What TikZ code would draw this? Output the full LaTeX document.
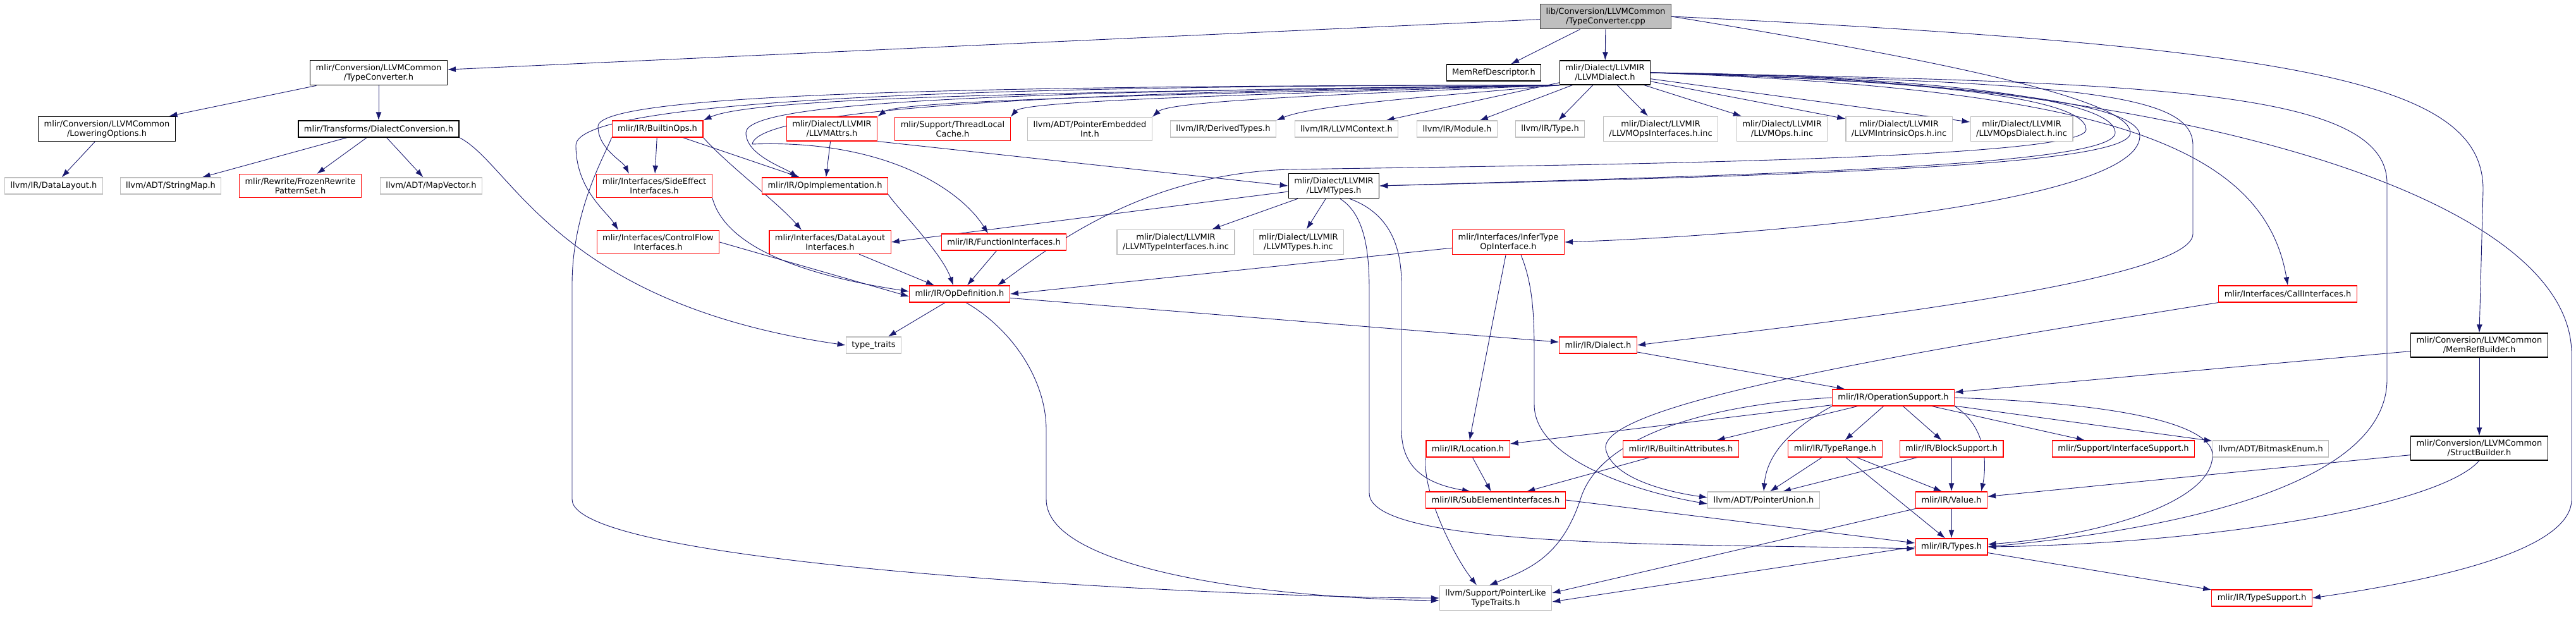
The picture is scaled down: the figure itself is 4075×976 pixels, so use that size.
\documentclass[tikz,border=0pt]{standalone}
\usepackage{fontspec}
\setmainfont{DejaVu Sans}
\usetikzlibrary{arrows.meta,positioning,backgrounds}

\definecolor{edgeblue}{HTML}{191970}
\definecolor{extgrey}{HTML}{BFBFBF}

\tikzset{
  file/.style={draw, line width=1.2pt, fill=white, align=center,
    font=\fontsize{13}{15}\selectfont, inner xsep=9pt, inner ysep=6pt,
    minimum height=26pt},
  rootfile/.style={file, fill=extgrey, draw=black!75},
  docfile/.style={file, draw=black},
  cutfile/.style={file, draw=red},
  extfile/.style={file, draw=extgrey},
  dep/.style={-{Latex[length=13pt,width=9pt]}, draw=edgeblue, line width=0.9pt},
}

\begin{document}
\begin{tikzpicture}[x=1pt,y=-1pt]
  \useasboundingbox (0,0) rectangle (4075,976);

  % top levels
  \node[rootfile] (tcCpp) at (2540,26) {lib/Conversion/LLVMCommon\\/TypeConverter.cpp};
  \node[docfile] (tcH) at (599,115) {mlir/Conversion/LLVMCommon\\/TypeConverter.h};
  \node[docfile] (memDesc) at (2363,115) {MemRefDescriptor.h};
  \node[docfile] (llvmDialect) at (2539,115) {mlir/Dialect/LLVMIR\\/LLVMDialect.h};

  \node[docfile] (lowerOpt) at (169,204) {mlir/Conversion/LLVMCommon\\/LoweringOptions.h};
  \node[docfile] (dialConv) at (599,204) {mlir/Transforms/DialectConversion.h};
  \node[cutfile] (builtinOps) at (1040,204) {mlir/IR/BuiltinOps.h};
  \node[cutfile] (llvmAttrs) at (1316,204) {mlir/Dialect/LLVMIR\\/LLVMAttrs.h};
  \node[cutfile] (threadCache) at (1507,204) {mlir/Support/ThreadLocal\\Cache.h};
  \node[extfile] (ptrEmbInt) at (1724,204) {llvm/ADT/PointerEmbedded\\Int.h};
  \node[extfile] (derivedTypes) at (1935,204) {llvm/IR/DerivedTypes.h};
  \node[extfile] (llvmContext) at (2130,204) {llvm/IR/LLVMContext.h};
  \node[extfile] (llvmModule) at (2305,204) {llvm/IR/Module.h};
  \node[extfile] (llvmType) at (2452,204) {llvm/IR/Type.h};
  \node[extfile] (opsIfaceInc) at (2627,204) {mlir/Dialect/LLVMIR\\/LLVMOpsInterfaces.h.inc};
  \node[extfile] (opsInc) at (2819,204) {mlir/Dialect/LLVMIR\\/LLVMOps.h.inc};
  \node[extfile] (intrOpsInc) at (3004,204) {mlir/Dialect/LLVMIR\\/LLVMIntrinsicOps.h.inc};
  \node[extfile] (opsDialInc) at (3198,204) {mlir/Dialect/LLVMIR\\/LLVMOpsDialect.h.inc};

  \node[extfile] (dataLayout) at (85,294) {llvm/IR/DataLayout.h};
  \node[extfile] (stringMap) at (270,294) {llvm/ADT/StringMap.h};
  \node[cutfile] (frozenRw) at (475,294) {mlir/Rewrite/FrozenRewrite\\PatternSet.h};
  \node[extfile] (mapVector) at (682,294) {llvm/ADT/MapVector.h};
  \node[cutfile] (sideEffect) at (1035,294) {mlir/Interfaces/SideEffect\\Interfaces.h};
  \node[cutfile] (opImpl) at (1305,294) {mlir/IR/OpImplementation.h};
  \node[docfile] (llvmTypes) at (2110,294) {mlir/Dialect/LLVMIR\\/LLVMTypes.h};

  \node[cutfile] (ctrlFlow) at (1041,383) {mlir/Interfaces/ControlFlow\\Interfaces.h};
  \node[cutfile] (dlIface) at (1313,383) {mlir/Interfaces/DataLayout\\Interfaces.h};
  \node[cutfile] (funcIface) at (1588,383) {mlir/IR/FunctionInterfaces.h};
  \node[extfile] (typeIfaceInc) at (1860,383) {mlir/Dialect/LLVMIR\\/LLVMTypeInterfaces.h.inc};
  \node[extfile] (typesInc) at (2054,383) {mlir/Dialect/LLVMIR\\/LLVMTypes.h.inc};
  \node[cutfile] (inferType) at (2386,383) {mlir/Interfaces/InferType\\OpInterface.h};

  \node[cutfile] (opDef) at (1518,465) {mlir/IR/OpDefinition.h};
  \node[cutfile] (callIface) at (3619,465) {mlir/Interfaces/CallInterfaces.h};
  \node[extfile] (typeTraits) at (1382,546) {type\_traits};
  \node[cutfile] (dialectH) at (2528,546) {mlir/IR/Dialect.h};
  \node[docfile] (memRefBld) at (3922,546) {mlir/Conversion/LLVMCommon\\/MemRefBuilder.h};
  \node[cutfile] (opSupport) at (2995,629) {mlir/IR/OperationSupport.h};

  \node[cutfile] (locationH) at (2322,710) {mlir/IR/Location.h};
  \node[cutfile] (builtinAttr) at (2659,710) {mlir/IR/BuiltinAttributes.h};
  \node[cutfile] (typeRange) at (2903,710) {mlir/IR/TypeRange.h};
  \node[cutfile] (blockSupp) at (3087,710) {mlir/IR/BlockSupport.h};
  \node[cutfile] (ifaceSupp) at (3359,710) {mlir/Support/InterfaceSupport.h};
  \node[extfile] (bitmaskEnum) at (3592,710) {llvm/ADT/BitmaskEnum.h};
  \node[docfile] (structBld) at (3922,709) {mlir/Conversion/LLVMCommon\\/StructBuilder.h};

  \node[cutfile] (subElem) at (2366,791) {mlir/IR/SubElementInterfaces.h};
  \node[extfile] (ptrUnion) at (2790,791) {llvm/ADT/PointerUnion.h};
  \node[cutfile] (valueH) at (3087,791) {mlir/IR/Value.h};
  \node[cutfile] (typesH) at (3087,865) {mlir/IR/Types.h};
  \node[extfile] (ptrLike) at (2366,946) {llvm/Support/PointerLike\\TypeTraits.h};
  \node[cutfile] (typeSupp) at (3578,946) {mlir/IR/TypeSupport.h};

  \begin{scope}[on background layer]
  % TypeConverter.cpp
  \draw[dep] (tcCpp) -- (tcH);
  \draw[dep] (tcCpp) -- (memDesc);
  \draw[dep] (tcCpp) -- (llvmDialect);
  \draw[dep] (tcCpp.east) .. controls (3650,75) and (3928,130) .. (3928,300) -- (memRefBld.north);
  \draw[dep] (tcCpp.east) .. controls (3100,100) and (3370,160) .. (3370,210) .. controls (3370,265) and (2800,278) .. (llvmTypes.east);

  % TypeConverter.h and friends
  \draw[dep] (tcH) -- (lowerOpt);
  \draw[dep] (tcH) -- (dialConv);
  \draw[dep] (lowerOpt) -- (dataLayout);
  \draw[dep] (dialConv) -- (stringMap);
  \draw[dep] (dialConv) -- (frozenRw);
  \draw[dep] (dialConv) -- (mapVector);
  \draw[dep] (dialConv.south east) .. controls (810,260) and (880,480) .. (typeTraits.west);

  % LLVMDialect.h, row below
  \draw[dep] (llvmDialect.south west) .. controls (1800,145) and (1200,150) .. (builtinOps.north east);
  \draw[dep] (llvmDialect.south west) .. controls (1800,150) and (1420,160) .. (llvmAttrs.north east);
  \draw[dep] (llvmDialect.south west) .. controls (1950,150) and (1620,160) .. (threadCache.north east);
  \draw[dep] (llvmDialect.south west) .. controls (2100,150) and (1850,160) .. (ptrEmbInt.north east);
  \draw[dep] (llvmDialect.south west) .. controls (2300,150) and (2080,165) .. (derivedTypes.north east);
  \draw[dep] (llvmDialect) -- (llvmContext);
  \draw[dep] (llvmDialect) -- (llvmModule);
  \draw[dep] (llvmDialect) -- (llvmType);
  \draw[dep] (llvmDialect) -- (opsIfaceInc);
  \draw[dep] (llvmDialect) -- (opsInc);
  \draw[dep] (llvmDialect) -- (intrOpsInc);
  \draw[dep] (llvmDialect) -- (opsDialInc);

  % LLVMDialect.h, loops to the left
  \draw[dep] (llvmDialect.south west) .. controls (1500,135) and (946,150) .. (946,200) .. controls (946,235) and (985,255) .. ([xshift=-40pt]sideEffect.north);
  \draw[dep] (llvmDialect.south west) .. controls (1500,135) and (911,160) .. (911,230) .. controls (911,300) and (960,335) .. ([xshift=-63pt]ctrlFlow.north);
  \draw[dep] (llvmDialect.south west) .. controls (1600,145) and (1180,160) .. (1180,210) .. controls (1180,245) and (1240,265) .. ([xshift=-43pt]opImpl.north);
  \draw[dep] (llvmDialect.south west) .. controls (1700,145) and (1200,170) .. (1190,228) .. controls (1400,220) and (1520,300) .. ([xshift=-25pt]funcIface.north);

  % LLVMDialect.h, loops to the right
  \draw[dep] (llvmDialect.east) .. controls (3000,120) and (3346,150) .. (3346,210) .. controls (3346,262) and (2800,276) .. (llvmTypes.east);
  \draw[dep] (llvmDialect.east) .. controls (3000,125) and (3300,150) .. (3300,205) .. controls (3300,255) and (2400,262) .. (2040,268) .. controls (1800,275) and (1650,400) .. ([xshift=-20pt]opDef.north east);
  \draw[dep] (llvmDialect.east) .. controls (3100,130) and (3385,160) .. (3385,215) .. controls (3385,320) and (2800,372) .. (inferType.east);
  \draw[dep] (llvmDialect.east) .. controls (3300,130) and (3469,150) .. (3469,230) -- (3469,370) .. controls (3469,450) and (2800,520) .. (dialectH.east);
  \draw[dep] (llvmDialect.east) .. controls (3300,140) and (3580,220) .. (callIface.north);
  \draw[dep] (llvmDialect.east) .. controls (3400,130) and (3776,140) .. (3776,290) -- (3776,600) .. controls (3776,800) and (3300,850) .. (typesH.east);
  \draw[dep] (llvmDialect.east) .. controls (3400,120) and (4068,300) .. (4068,560) -- (4068,790) .. controls (4068,880) and (3800,925) .. (typeSupp.east);

  % BuiltinOps.h, LLVMAttrs.h
  \draw[dep] (builtinOps) -- (sideEffect);
  \draw[dep] (builtinOps) -- ([xshift=-40pt]opImpl.north);
  \draw[dep] (builtinOps.south east) .. controls (1150,260) and (1230,320) .. ([xshift=-45pt]dlIface.north);
  \draw[dep] (builtinOps.south west) .. controls (960,240) and (905,330) .. (905,450) -- (905,790) .. controls (905,900) and (2000,946) .. (ptrLike.west);
  \draw[dep] (llvmAttrs) -- (opImpl);
  \draw[dep] (llvmAttrs.south east) -- (llvmTypes.west);

  % into OpDefinition.h
  \draw[dep] (sideEffect.south east) .. controls (1150,400) and (1300,440) .. ([yshift=4pt]opDef.west);
  \draw[dep] (ctrlFlow.east) -- ([yshift=-4pt]opDef.west);
  \draw[dep] (dlIface) -- ([xshift=-40pt]opDef.north);
  \draw[dep] (opImpl.south east) .. controls (1420,330) and (1490,400) .. ([xshift=-10pt]opDef.north);
  \draw[dep] (funcIface) -- ([xshift=12pt]opDef.north);
  \draw[dep] (inferType) -- (opDef.east);

  % OpDefinition.h
  \draw[dep] (opDef) -- (typeTraits);
  \draw[dep] (opDef) -- (dialectH);
  \draw[dep] ([xshift=10pt]opDef.south) .. controls (1600,520) and (1655,600) .. (1655,680) -- (1655,790) .. controls (1655,900) and (2000,946) .. ([yshift=-4pt]ptrLike.west);

  % LLVMTypes.h
  \draw[dep] (llvmTypes) -- (dlIface.east);
  \draw[dep] (llvmTypes) -- (typeIfaceInc);
  \draw[dep] (llvmTypes) -- (typesInc);
  \draw[dep] ([xshift=25pt]llvmTypes.south) .. controls (2205,340) and (2217,400) .. (2217,450) -- (2217,680) .. controls (2217,740) and (2255,765) .. ([xshift=-40pt]subElem.north);
  \draw[dep] ([xshift=10pt]llvmTypes.south) .. controls (2160,340) and (2166,400) .. (2166,460) -- (2166,780) .. controls (2166,870) and (2700,860) .. ([yshift=-3pt]typesH.west);

  % InferTypeOpInterface.h
  \draw[dep] (inferType) -- (locationH);
  \draw[dep] ([xshift=20pt]inferType.south) .. controls (2425,450) and (2427,500) .. (2427,560) -- (2427,640) .. controls (2427,730) and (2600,780) .. ([yshift=-6pt]ptrUnion.west);

  % Dialect.h, MemRefBuilder.h, CallInterfaces.h
  \draw[dep] (dialectH) -- (opSupport);
  \draw[dep] (memRefBld) -- (opSupport);
  \draw[dep] (memRefBld) -- (structBld);
  \draw[dep] (callIface.south west) .. controls (3000,560) and (2530,640) .. (2540,710) .. controls (2550,760) and (2650,780) .. ([yshift=4pt]ptrUnion.west);

  % OperationSupport.h
  \draw[dep] (opSupport) -- (locationH);
  \draw[dep] (opSupport.west) .. controls (2700,640) and (2530,690) .. (2500,790) .. controls (2470,880) and (2420,900) .. ([xshift=-10pt]ptrLike.north);
  \draw[dep] (opSupport) -- (builtinAttr);
  \draw[dep] (opSupport) -- (typeRange);
  \draw[dep] (opSupport) -- (blockSupp);
  \draw[dep] (opSupport) -- (ifaceSupp);
  \draw[dep] (opSupport) -- (bitmaskEnum);
  \draw[dep] (opSupport.south east) .. controls (3150,680) and (3140,750) .. ([xshift=-10pt]valueH.north east);
  \draw[dep] (opSupport.south west) .. controls (2830,680) and (2795,720) .. (ptrUnion.north);
  \draw[dep] (opSupport.east) .. controls (3400,640) and (3500,680) .. (3500,720) .. controls (3500,800) and (3300,850) .. ([yshift=4pt]typesH.east);

  % lower levels
  \draw[dep] (typeRange) -- ([xshift=10pt]ptrUnion.north);
  \draw[dep] (typeRange) -- ([xshift=-15pt]valueH.north);
  \draw[dep] (typeRange) -- ([xshift=-10pt]typesH.north);
  \draw[dep] (blockSupp) -- ([xshift=30pt]ptrUnion.north);
  \draw[dep] (blockSupp) -- (valueH);
  \draw[dep] (builtinAttr) -- (subElem);
  \draw[dep] (locationH) -- (subElem);
  \draw[dep] (locationH.south west) .. controls (2250,780) and (2300,880) .. ([xshift=-30pt]ptrLike.north);
  \draw[dep] (subElem.east) -- ([yshift=6pt]typesH.west);
  \draw[dep] (structBld) -- (valueH);
  \draw[dep] (structBld.south) .. controls (3860,800) and (3500,860) .. (typesH.east);
  \draw[dep] (valueH) -- (typesH);
  \draw[dep] (valueH.south west) -- ([yshift=8pt]ptrLike.east);
  \draw[dep] (typesH) -- (typeSupp);
  \draw[dep] (typesH.west) -- ([yshift=-6pt]ptrLike.east);
  \end{scope}
\end{tikzpicture}
\end{document}
